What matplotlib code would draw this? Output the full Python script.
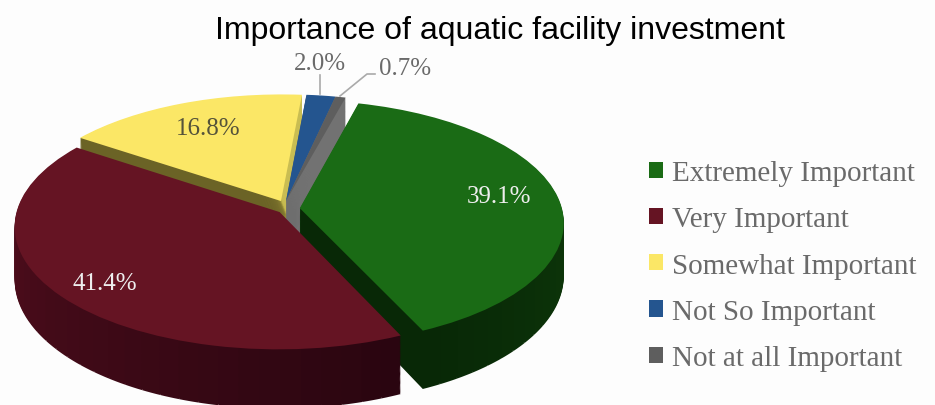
import matplotlib
matplotlib.use("Agg")
import matplotlib.pyplot as plt
import numpy as np
from matplotlib.colors import to_rgb
from matplotlib.patches import Patch
from matplotlib.transforms import Transform

categories = ["Extremely Important", "Very Important", "Somewhat Important",
              "Not So Important", "Not at all Important"]
values = [39.1, 41.4, 16.8, 2.0, 0.7]
top_colors = ["#1a6b15", "#651423", "#fbe766", "#24558f", "#5e5e5e"]
# wall colour at the start and end of each slice's sweep
wall_start = ["#134a0f", "#2a0510", "#6b6326", "#6e6e6e", "#6e6e6e"]
wall_end = ["#082806", "#5a1020", "#c9bd52", "#6e6e6e", "#727272"]
# how far each slice is pulled from the middle
offsets = [(0.045, -0.035), (-0.032, -0.067), (-0.027, 0.025), (-0.008, 0.025), (-0.008, 0.025)]
# the right hand wall of these slices shows a bit
lean = [0, 0, 0.4, 0, 0.4]
draw_order = [2, 3, 4, 0, 1]

# pixel geometry of the tilted disc
CX, CY = 288, 205
RX, RY = 261, 119.5
K = 0.115
DEPTH = 52
START = 90 - 14.7  # green begins here, going clockwise


class Tilt(Transform):
    input_dims = output_dims = 2
    is_separable = False
    has_inverse = False

    def __init__(self, z=0, center=(0, 0), lean=0):
        super().__init__()
        self.z = z
        self.center = center
        self.lean = lean

    def transform_non_affine(self, xy):
        xy = np.asarray(xy)
        x, y = xy[:, 0], xy[:, 1]
        r = np.hypot(x - self.center[0], y - self.center[1])
        s = 1 / (1 + K * y)
        shift = self.lean * min(self.z, 15) * np.clip(1 - r, 0, 1)
        return np.c_[CX + RX * x * s + shift, CY - RY * y * s + self.z * s]


fig = plt.figure(figsize=(9.35, 4.06), dpi=100, facecolor="#fdfdfd")
ax = fig.add_axes([0, 0, 1, 1])

starts = START - np.cumsum([0] + values[:-1]) * 3.6
for i in draw_order:
    frac = values[i] / 100
    n = max(2, int(values[i] * 3.6 / 4))
    t = np.linspace(0, 1, n)[:, None]
    shades = (1 - t) * np.array(to_rgb(wall_start[i])) + t * np.array(to_rgb(wall_end[i]))
    for z in range(DEPTH, 0, -1):
        wedges, _ = ax.pie([frac / n] * n, startangle=starts[i], counterclock=False,
                           normalize=False, colors=[tuple(c) for c in shades],
                           center=offsets[i], wedgeprops={"linewidth": 0})
        for w in wedges:
            w.set_transform(Tilt(z, offsets[i], lean[i]) + ax.transData)
            w.set_clip_on(False)
    wedges, _ = ax.pie([frac], startangle=starts[i], counterclock=False, normalize=False,
                       colors=[top_colors[i]], center=offsets[i],
                       wedgeprops={"linewidth": 0})
    wedges[0].set_transform(Tilt(0, offsets[i]) + ax.transData)
    wedges[0].set_clip_on(False)

ax.set_aspect("auto")
ax.set_xlim(0, 935)
ax.set_ylim(406, 0)
ax.axis("off")

serif = "Liberation Serif"
pct = [f"{v:.1f}%" for v in values]
ax.text(499, 197, pct[0], color="#eeeeee", fontsize=18, family=serif, ha="center", va="center")
ax.text(105, 284, pct[1], color="#eeeeee", fontsize=18, family=serif, ha="center", va="center")
ax.text(208, 129, pct[2], color="#55533a", fontsize=18, family=serif, ha="center", va="center")
ax.text(320, 64, pct[3], color="#6a6a6a", fontsize=18, family=serif, ha="center", va="center")
ax.text(405, 69, pct[4], color="#6a6a6a", fontsize=18, family=serif, ha="center", va="center")

# leader lines
ax.plot([320, 320], [76, 95], color="#aaaaaa", lw=1.2)
ax.plot([375, 367, 340], [75, 75, 97], color="#aaaaaa", lw=1.2)

ax.text(500, 31, "Importance of aquatic facility investment", color="black",
        fontsize=23, family="Liberation Sans", ha="center", va="center")

handles = [Patch(facecolor=c, edgecolor="none") for c in top_colors]
ax.legend(handles, categories, loc="upper left", bbox_to_anchor=(649 / 935, 1 - 161 / 406),
          frameon=False, prop={"family": serif, "size": 21}, labelcolor="#6a6a6a",
          handlelength=0.478, handleheight=0.478, handletextpad=0.31, labelspacing=0.695,
          borderpad=0, borderaxespad=0)

fig.savefig("out.png", dpi=100, facecolor=fig.get_facecolor())
